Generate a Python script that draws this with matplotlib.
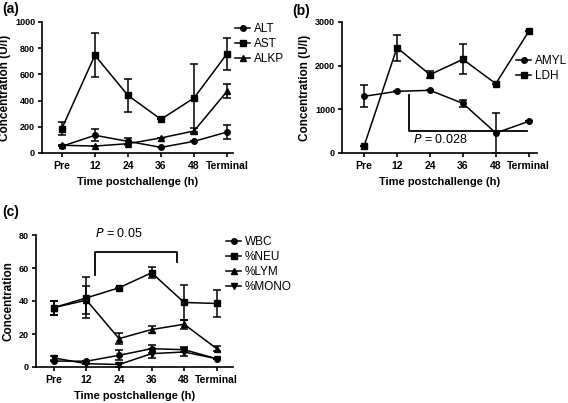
import matplotlib
matplotlib.use("Agg")
import matplotlib.pyplot as plt
from matplotlib.lines import Line2D
import numpy as np

plt.rcParams['font.family'] = ['Liberation Sans', 'DejaVu Sans']

# Shared x categories
time_labels = ['Pre', '12', '24', '36', '48', 'Terminal']

# Panel (a) liver enzymes (U/l)
alt = [51, 135, 89, 43, 89, 160]
alt_err = [0, 45, 25, 0, 0, 50]
ast = [186, 746, 440, 257, 420, 758]
ast_err = [50, 168, 127, 0, 262, 122]
alkp = [59, 53, 71, 115, 168, 471]
alkp_err = [0, 0, 0, 0, 20, 52]

# Panel (b)
amyl = [1298, 1412, 1435, 1137, 458, 725]
amyl_err = [252, 0, 0, 84, 455, 0]
ldh = [160, 2412, 1794, 2145, 1588, 2786]
ldh_err = [0, 294, 77, 347, 0, 0]

# Panel (c) blood counts
wbc = [3.6, 3.5, 7.1, 11.1, 10.5, 5.0]
wbc_err = [0, 0, 3.0, 2.5, 1.6, 0]
neu = [36, 41.9, 48, 57.1, 39.1, 38.5]
neu_err = [4.2, 12.5, 0, 3.4, 10.5, 8.1]
lym = [36, 40.5, 17.2, 22.7, 25.9, 11.1]
lym_err = [4.2, 8.5, 3.4, 2.3, 2.7, 1.6]
mono = [5.5, 2.0, 1.5, 8.1, 9.1, 5.0]
mono_err = [1.2, 0, 1.2, 2.6, 2.3, 0]

W, H = 568, 403
fig = plt.figure(figsize=(W / 100, H / 100), dpi=100)


def px_axes(left, right, top, bottom):
    return fig.add_axes([left / W, 1 - bottom / H, (right - left) / W, (bottom - top) / H])


def style(ax):
    for s in ['top', 'right']:
        ax.spines[s].set_visible(False)
    for s in ['left', 'bottom']:
        ax.spines[s].set_linewidth(1.2)
    ax.tick_params(length=3, width=1.2, pad=3)
    ax.tick_params(axis='y', labelsize=6.5, pad=2)
    for lab in ax.get_yticklabels():
        lab.set_fontweight('bold')
    ax.set_xticks(range(len(time_labels)))
    ax.set_xticklabels(time_labels, fontweight='bold', fontsize=7.5)
    ax.set_xlabel('Time postchallenge (h)', fontweight='bold', fontsize=8, labelpad=4)


def series(ax, y, e, marker, ms=4):
    x = np.arange(len(y))
    ax.errorbar(x, y, yerr=e, color='black', marker=marker, ms=ms, lw=1.1,
                elinewidth=1.1, capsize=2.8, capthick=1.1, clip_on=False)


def legend(ax, labels, markers, x, y):
    handles = [Line2D([], [], color='black', lw=1.1, marker=m, ms=4) for m in markers]
    ax.legend(handles, labels, loc='upper left', bbox_to_anchor=(x / W, 1 - y / H),
              bbox_transform=fig.transFigure, frameon=False, fontsize=8.5,
              handlelength=1.3, handletextpad=0.3, labelspacing=0.25,
              borderpad=0, borderaxespad=0)


# (a)
ax1 = px_axes(42, 233, 22, 153)
series(ax1, alt, alt_err, 'o')
series(ax1, ast, ast_err, 's')
series(ax1, alkp, alkp_err, '^')
ax1.set_xlim(-0.6, 5.18)
ax1.set_ylim(0, 1000)
ax1.set_yticks([0, 200, 400, 600, 800, 1000])
style(ax1)
ax1.set_ylabel('Concentration (U/l)', fontweight='bold', fontsize=8.5, labelpad=3)
legend(ax1, ['ALT', 'AST', 'ALKP'], ['o', 's', '^'], 235, 23)
fig.text(2 / W, 1 - 9 / H, '(a)', fontweight='bold', fontsize=10, va='center')

# (b)
ax2 = px_axes(342, 537, 22, 153)
series(ax2, amyl, amyl_err, 'o')
series(ax2, ldh, ldh_err, 's')
ax2.set_xlim(-0.67, 5.25)
ax2.set_ylim(0, 3000)
ax2.set_yticks([0, 1000, 2000, 3000])
style(ax2)
ax2.set_ylabel('Concentration (U/l)', fontweight='bold', fontsize=8.5, labelpad=3)
ax2.plot([1.36, 1.36, 4.94], [1330, 505, 505], color='black', lw=1.3)
ax2.text(2.3, 300, '$\\it{P}$ = 0.028', ha='center', va='center', fontsize=9)
legend(ax2, ['AMYL', 'LDH'], ['o', 's'], 516, 55)
fig.text(292 / W, 1 - 11 / H, '(b)', fontweight='bold', fontsize=10, va='center')

# (c)
ax3 = px_axes(36, 233, 235, 367)
series(ax3, wbc, wbc_err, 'o')
series(ax3, neu, neu_err, 's')
series(ax3, lym, lym_err, '^')
series(ax3, mono, mono_err, 'v')
ax3.set_xlim(-0.55, 5.5)
ax3.set_ylim(0, 80)
ax3.set_yticks([0, 20, 40, 60, 80])
style(ax3)
ax3.set_ylabel('Concentration', fontweight='bold', fontsize=8.5, labelpad=3)
ax3.plot([1.26, 1.26, 3.77, 3.77], [55.8, 69.7, 69.7, 63.6], color='black', lw=1.3, clip_on=False)
ax3.text(2.0, 81, '$\\it{P}$ = 0.05', ha='center', va='center', fontsize=9)
legend(ax3, ['WBC', '%NEU', '%LYM', '%MONO'], ['o', 's', '^', 'v'], 226, 236)
fig.text(2 / W, 1 - 212 / H, '(c)', fontweight='bold', fontsize=10, va='center')

fig.savefig('out.png', dpi=100)
